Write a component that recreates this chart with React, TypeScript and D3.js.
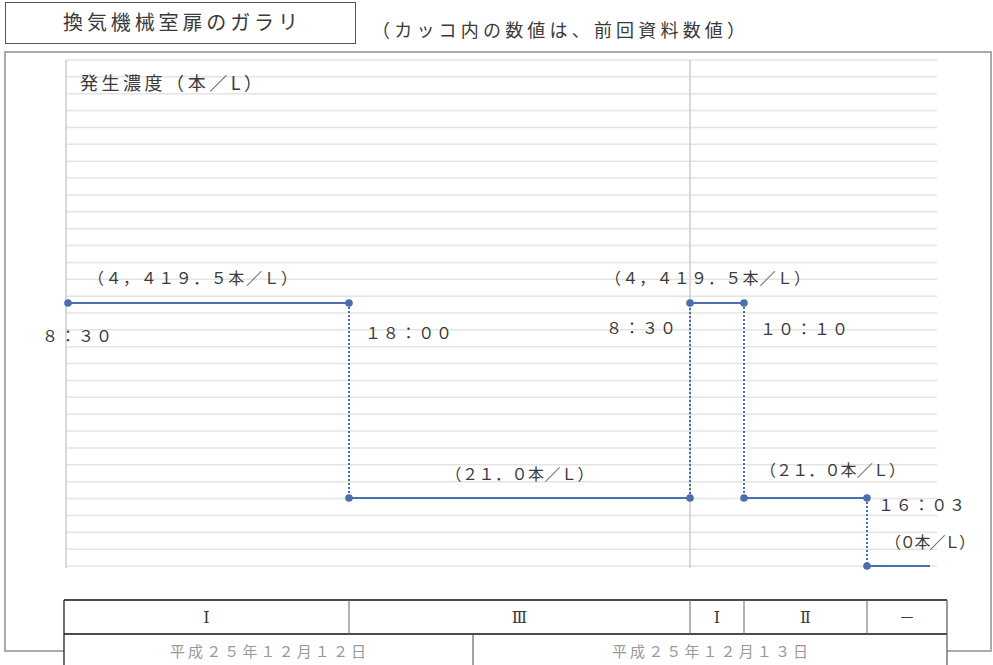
import React from "react";
import * as d3 from "d3";

// ---- data ----
const eventMinutes = [510, 1080, 1950, 2050, 2403, 2520]; // minutes from 12/12 0:00
const eventLabels = ["8:30", "18:00", "8:30", "10:10", "16:03"];
const levels = [4419.5, 21.0, 4419.5, 21.0, 0];
const periodLabels = ["Ⅰ", "Ⅲ", "Ⅰ", "Ⅱ", "－"];
const dateLabels = ["平成２５年１２月１２日", "平成２５年１２月１３日"];
const titleText = "換気機械室扉のガラリ";
const noteText = "（カッコ内の数値は、前回資料数値）";
const yAxisTitle = "発生濃度（本／L）";

// ---- layout ----
const W = 993, H = 665;
const FONT = "'Noto Sans CJK JP', 'Noto Sans', sans-serif";
const LINE = "#4a6fae";
const TXT = "#3a3a3a";
const plotTop = 60, plotBottom = 566, plotLeft = 66, plotRight = 937;
const gridCount = 30;

const toFW = (s: string) =>
  s.replace(/[!-~]/g, (c) => String.fromCharCode(c.charCodeAt(0) + 0xfee0));
const levelText = (v: number) =>
  "（" + toFW(v === 0 ? "0" : d3.format(",.1f")(v)) + "本／Ｌ）";

// label placement (offsets relative to the anchor point), textLength
const timeLabelLayout = [
  { dx: -26, dy: 33, len: 70 },
  { dx: 16, dy: 30, len: 87 },
  { dx: -84, dy: 25, len: 70 },
  { dx: 16, dy: 26, len: 88 },
  { dx: 11, dy: 7, len: 87 },
];
const levelLabelLayout = [
  { pos: 0, dx: 20, dy: -25, len: 209 },
  { pos: 0.5, dx: -74, dy: -24, len: 148 },
  { pos: 0, dx: -85, dy: -25, len: 205 },
  { pos: 0, dx: 16, dy: -28, len: 145 },
  { pos: 0, dx: 18, dy: -24, len: 90 },
];

export default function App() {
  const x = d3
    .scaleLinear()
    .domain(eventMinutes)
    .range([68, 349, 690, 744, 867, 930]);
  const y = d3
    .scaleSymlog()
    .constant(4.15)
    .domain([0, 4419.5])
    .range([plotBottom, 303]);
  const gridY = d3.scaleLinear().domain([0, gridCount]).range([plotTop, plotBottom]);

  const segs = levels.map((v, i) => ({
    x0: x(eventMinutes[i]),
    x1: x(eventMinutes[i + 1]),
    y: y(v),
    v,
  }));
  const lineGen = d3.line<[number, number]>();

  const tableLeft = 64, tableRight = 947, row1Top = 600, row2Top = 634, row2Div = 473;
  const colBounds = [tableLeft, ...eventMinutes.slice(1, 5).map((m) => x(m)), tableRight];

  return (
    <svg
      width={W}
      height={H}
      style={{ position: "absolute", left: 0, top: 0, background: "#fff" }}
      fontFamily={FONT}
    >
      {/* outer frame */}
      <rect x={5} y={52} width={986} height={599} fill="none" stroke="#aaa" strokeWidth={2} />
      {/* title box */}
      <rect x={5.5} y={2.5} width={350} height={41} fill="#fff" stroke="#555" strokeWidth={1} />
      <text x={63} y={30} fontSize={20} fill={TXT} textLength={235} lengthAdjust="spacing">
        {titleText}
      </text>
      <text x={372} y={37} fontSize={18} fill={TXT} textLength={373} lengthAdjust="spacing">
        {noteText}
      </text>

      {/* grid */}
      {d3.range(gridCount + 1).map((i) => (
        <line
          key={i}
          x1={plotLeft}
          x2={plotRight}
          y1={gridY(i)}
          y2={gridY(i)}
          stroke="#e4e4e4"
          strokeWidth={1.5}
        />
      ))}
      <line x1={plotLeft} x2={plotLeft} y1={plotTop} y2={plotBottom + 2} stroke="#ccc" strokeWidth={1.5} />
      <line
        x1={x(eventMinutes[2])}
        x2={x(eventMinutes[2])}
        y1={plotTop}
        y2={plotBottom + 2}
        stroke="#ccc"
        strokeWidth={1.5}
      />
      <text x={80} y={90} fontSize={18} fill={TXT} textLength={182} lengthAdjust="spacing">
        {yAxisTitle}
      </text>

      {/* vertical dotted transitions */}
      {segs.slice(0, -1).map((s, i) => (
        <path
          key={"v" + i}
          d={lineGen([
            [s.x1, s.y],
            [s.x1, segs[i + 1].y],
          ]) || ""}
          stroke={LINE}
          strokeWidth={2}
          strokeDasharray="2,2"
          fill="none"
        />
      ))}
      {/* horizontal levels */}
      {segs.map((s, i) => (
        <path
          key={"h" + i}
          d={lineGen([
            [s.x0, s.y],
            [s.x1, s.y],
          ]) || ""}
          stroke={LINE}
          strokeWidth={2}
          fill="none"
        />
      ))}
      {/* markers */}
      {segs.map((s, i) => (
        <g key={"m" + i}>
          <circle cx={s.x0} cy={s.y} r={3.8} fill={LINE} />
          {i < segs.length - 1 && <circle cx={s.x1} cy={s.y} r={3.8} fill={LINE} />}
        </g>
      ))}

      {/* level labels */}
      {segs.map((s, i) => {
        const L = levelLabelLayout[i];
        const ax = s.x0 + (s.x1 - s.x0) * L.pos;
        return (
          <text
            key={"l" + i}
            x={ax + L.dx}
            y={s.y + L.dy}
            dy="0.35em"
            fontSize={16}
            fill={TXT}
            textLength={L.len}
            lengthAdjust="spacing"
          >
            {levelText(s.v)}
          </text>
        );
      })}
      {/* time labels */}
      {eventLabels.map((t, i) => {
        const L = timeLabelLayout[i];
        const px = x(eventMinutes[i]);
        const py = i === 0 ? segs[0].y : Math.min(segs[i - 1].y, segs[i].y);
        return (
          <text
            key={"t" + i}
            x={px + L.dx}
            y={py + L.dy}
            dy="0.35em"
            fontSize={16}
            fill={TXT}
            textLength={L.len}
            lengthAdjust="spacing"
          >
            {toFW(t)}
          </text>
        );
      })}

      {/* table */}
      <rect x={tableLeft} y={row1Top} width={tableRight - tableLeft} height={H - row1Top + 5} fill="#fff" />
      <line x1={tableLeft} x2={tableRight} y1={row1Top} y2={row1Top} stroke="#111" strokeWidth={1.5} />
      <line x1={tableLeft} x2={tableRight} y1={row2Top} y2={row2Top} stroke="#111" strokeWidth={1.5} />
      <line x1={tableLeft} x2={tableLeft} y1={row1Top} y2={H} stroke="#111" strokeWidth={1.2} />
      <line x1={tableRight} x2={tableRight} y1={row1Top} y2={H} stroke="#555" strokeWidth={1.2} />
      {colBounds.slice(1, -1).map((cx, i) => (
        <line key={"c" + i} x1={cx} x2={cx} y1={row1Top} y2={row2Top} stroke="#666" strokeWidth={1} />
      ))}
      <line x1={row2Div} x2={row2Div} y1={row2Top} y2={H} stroke="#444" strokeWidth={1} />
      {periodLabels.map((p, i) => (
        <text
          key={"p" + i}
          x={(colBounds[i] + colBounds[i + 1]) / 2}
          y={(row1Top + row2Top) / 2}
          dy="0.35em"
          textAnchor="middle"
          fontSize={16}
          fill={TXT}
          fontFamily={p === "－" ? FONT : "'DejaVu Serif', serif"}
        >
          {p}
        </text>
      ))}
      {dateLabels.map((d, i) => {
        const x0 = i === 0 ? tableLeft : row2Div;
        const x1 = i === 0 ? row2Div : tableRight;
        const cx = (x0 + x1) / 2 + (i === 0 ? -0.5 : 0);
        return (
          <text
            key={"d" + i}
            x={cx - 98}
            y={652}
            dy="0.35em"
            fontSize={15}
            fill="#999"
            textLength={196}
            lengthAdjust="spacing"
          >
            {d}
          </text>
        );
      })}
    </svg>
  );
}
